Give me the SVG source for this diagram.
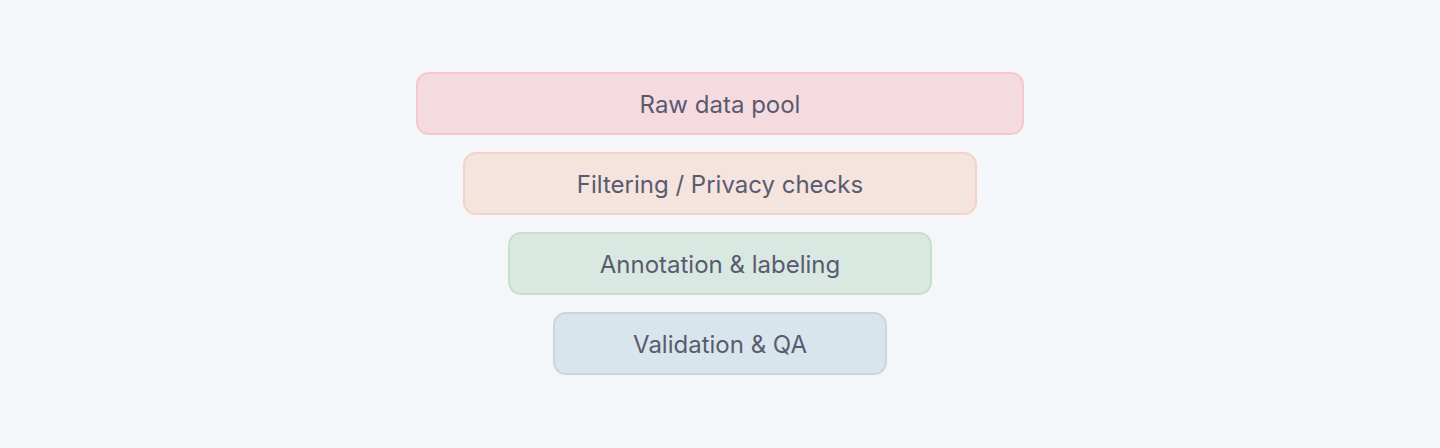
<svg xmlns="http://www.w3.org/2000/svg" width="1440" height="448" viewBox="0 0 1440 448">
<style>
.box{stroke-width:2}
.lbl{font-family:Inter,"Noto Sans",sans-serif;font-size:24px;fill:#585b70;text-anchor:middle;dominant-baseline:central}
</style>
<rect width="1440" height="448" fill="#f5f6fa"/>
<g id="connectors"></g>
<g id="raw">
<rect class="box" x="417" y="73" width="606" height="61" rx="12" fill="#f5dbe0" stroke="#f4c9cd"/>
<text class="lbl" x="720" y="104">Raw data pool</text>
</g>
<g id="filtering">
<rect class="box" x="464" y="153" width="512" height="61" rx="12" fill="#f5e3de" stroke="#f4d3c4"/>
<text class="lbl" x="720" y="184.5">Filtering / Privacy checks</text>
</g>
<g id="annotation">
<rect class="box" x="509" y="233" width="422" height="61" rx="12" fill="#d9e8e0" stroke="#c6dfcf"/>
<text class="lbl" x="720" y="264.5">Annotation &amp; labeling</text>
</g>
<g id="validation">
<rect class="box" x="554" y="313" width="332" height="61" rx="12" fill="#d8e5ed" stroke="#c5d7e2"/>
<text class="lbl" x="720" y="344.5">Validation &amp; QA</text>
</g>
</svg>
